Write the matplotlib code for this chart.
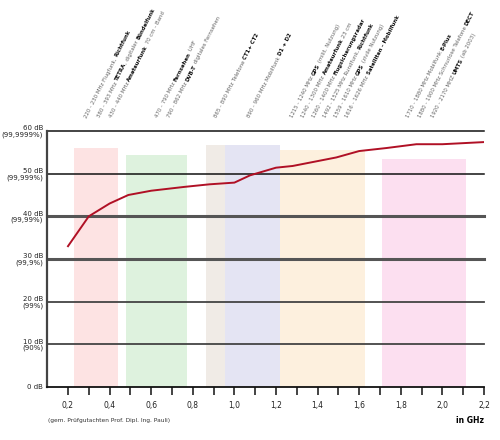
import math

import matplotlib

matplotlib.use("Agg")
import matplotlib.pyplot as plt

# attenuation curve (GHz, dB)
freq_ghz = [0.2, 0.3, 0.4, 0.49, 0.6, 0.76, 0.88, 1.0, 1.075, 1.2, 1.28, 1.49, 1.6, 1.73, 1.875, 2.0, 2.2]
atten_db = [33.0, 40.0, 43.0, 45.0, 46.0, 46.9, 47.5, 47.9, 49.6, 51.4, 51.8, 53.8, 55.3, 56.0, 56.9, 56.9, 57.4]

# frequency bands behind the curve
band_start = [0.23, 0.48, 0.865, 0.955, 1.22, 1.71]
band_end = [0.44, 0.77, 0.955, 1.22, 1.63, 2.115]
band_top = [56.0, 54.3, 56.7, 56.7, 55.5, 53.5]
band_color = ["#fde3e3", "#def2de", "#f0ebe6", "#e4e4f3", "#fdf0de", "#fcdff0"]

y_ticks = [0, 10, 20, 30, 40, 50, 60]
y_labels = ["0 dB", "10 dB\n(90%)", "20 dB\n(99%)", "30 dB\n(99,9%)",
            "40 dB\n(99,99%)", "50 dB\n(99,999%)", "60 dB\n(99,9999%)"]
x_major = [0.2, 0.4, 0.6, 0.8, 1.0, 1.2, 1.4, 1.6, 1.8, 2.0, 2.2]
x_minor = [0.3, 0.5, 0.7, 0.9, 1.1, 1.3, 1.5, 1.7, 1.9, 2.1]

# rotated service labels: anchor x (GHz) and text, *...* marks bold parts
label_x = [0.291, 0.352, 0.41, 0.633, 0.69, 0.916, 1.075,
           1.282, 1.335, 1.388, 1.44, 1.493, 1.546, 1.839, 1.897, 1.958]
label_text = [
    "220 - 230 MHz Flugfunk, *Richtfunk*",
    "380 - 393 MHz *TETRA*, digitaler *Bündelfunk*",
    "430 - 440 MHz *Amateurfunk* 70 cm - Band",
    "470 - 790 MHz *Fernsehen* UHF",
    "790 - 862 MHz *DVB-T* digitales Fernsehen",
    "865 - 890 MHz Telefone *CT1+ CT2*",
    "890 - 960 MHz Mobilfunk *D1 + D2*",
    "1215 - 1240 MHz *GPS* (milit. Nutzung)",
    "1240 - 1300 MHz *Amateurfunk* 23 cm",
    "1260 - 1400 MHz *Flugsicherungsradar*",
    "1492 - 1525 MHz Rundfunk, *Richtfunk*",
    "1559 - 1610 MHz *GPS* (zivile Nutzung)",
    "1616 - 1626 MHz *Satelliten - Mobilfunk*",
    "1710 - 1880 MHz Mobilfunk *E-Plus*",
    "1880 - 1900 MHz Schnurlose Telefone *DECT*",
    "1920 - 2170 MHZ *UMTS* (ab 2003)",
]

LABEL_ANGLE = 63
LABEL_SIZE = 3.9
DPI = 100

plt.rcParams["font.family"] = ["DejaVu Sans"]

fig = plt.figure(figsize=(5.0, 4.4), dpi=DPI)
ax = fig.add_axes([0.0944, 0.1205, 0.8736, 0.5818])
ax.set_xlim(0.1, 2.2)
ax.set_ylim(0, 60)

for x0, x1, top, c in zip(band_start, band_end, band_top, band_color):
    ax.fill_between([x0, x1], 0, top, color=c, lw=0, zorder=1)

# horizontal grid lines with different weights
line_style = {10: ("#444444", 1.3), 20: ("#444444", 1.3), 30: ("#555555", 2.2),
              40: ("#555555", 2.2), 50: ("#111111", 1.1), 60: ("#111111", 1.1)}
for y in y_ticks[1:]:
    c, lw = line_style[y]
    ax.axhline(y, color=c, lw=lw, zorder=2, clip_on=False)

ax.plot(freq_ghz, atten_db, color="#b01025", lw=1.4, zorder=3)

for s in ["top", "right"]:
    ax.spines[s].set_visible(False)
ax.spines["left"].set_color("#444444")
ax.spines["left"].set_linewidth(1.6)
ax.spines["bottom"].set_color("#111111")
ax.spines["bottom"].set_linewidth(1.3)
ax.spines["bottom"].set_zorder(4)

ax.set_yticks(y_ticks)
ax.set_yticklabels(y_labels, fontsize=5.0, linespacing=1.0, color="#222222")
ax.tick_params(axis="y", length=0, pad=3)
ax.set_xticks(x_major)
ax.set_xticklabels([f"{v:.1f}".replace(".", ",") for v in x_major], fontsize=5.5, color="#222222")
ax.set_xticks(x_minor, minor=True)
ax.tick_params(axis="x", which="both", direction="out", length=6, width=1.1, color="#111111", pad=4)

# mixed-weight rotated labels: place pieces one after another along the text direction
renderer = fig.canvas.get_renderer()


def _width(s: str, weight: str) -> float:
    t = fig.text(0, 0, s + "x", fontsize=LABEL_SIZE, fontweight=weight)
    r = fig.text(0, 0, "x", fontsize=LABEL_SIZE, fontweight=weight)
    w = t.get_window_extent(renderer).width - r.get_window_extent(renderer).width
    t.remove()
    r.remove()
    return w


cos_a = math.cos(math.radians(LABEL_ANGLE))
sin_a = math.sin(math.radians(LABEL_ANGLE))
for x, text in zip(label_x, label_text):
    offset = 0.0
    for i, piece in enumerate(text.split("*")):
        if not piece:
            continue
        weight = "bold" if i % 2 else "normal"
        ax.annotate(piece, xy=(x, 63.0), xycoords="data",
                    xytext=(offset * cos_a * 72 / DPI, offset * sin_a * 72 / DPI),
                    textcoords="offset points", rotation=LABEL_ANGLE, rotation_mode="anchor",
                    ha="left", va="baseline", fontsize=LABEL_SIZE, fontweight=weight,
                    color="#111111" if weight == "bold" else "#666666", annotation_clip=False)
        offset += _width(piece, weight)

fig.text(0.096, 0.045, "(gem. Prüfgutachten Prof. Dipl. Ing. Pauli)", fontsize=4.2, color="#333333",
         ha="left", va="center")
fig.text(0.968, 0.045, "in GHz", fontsize=5.5, fontweight="bold", ha="right", va="center")

fig.savefig("out.png", dpi=DPI)
